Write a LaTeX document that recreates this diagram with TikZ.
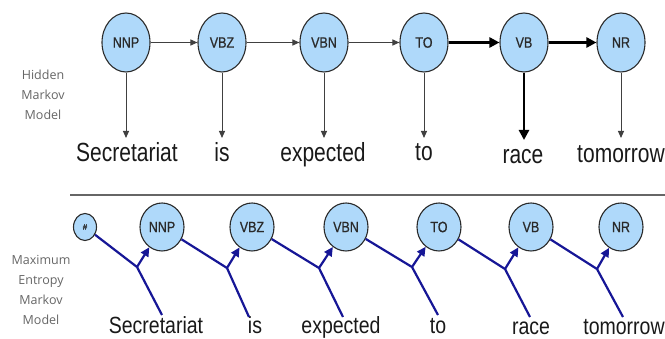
\documentclass[tikz,border=0pt]{standalone}
\usepackage{fontspec}
\setmainfont{Liberation Sans}
\newfontfamily\sidefont{Open Sans}
\newfontfamily\tagfont[FakeBold=0.8]{Liberation Sans}
\usetikzlibrary{arrows.meta,shapes.geometric}
\definecolor{tagfill}{HTML}{AFD9FA}
\definecolor{tagline}{HTML}{2A2A2A}
\definecolor{memmblue}{RGB}{22,22,150}
\definecolor{sidegray}{HTML}{666666}
\tikzset{
  tag/.style={ellipse, draw=tagline, fill=tagfill, line width=1.1pt, inner sep=0pt,
    minimum width=48pt, minimum height=59pt, text=tagline,
    font=\tagfont\fontsize{12.5}{14}\selectfont},
  tagsmall/.style={tag, minimum width=44pt, minimum height=48pt},
  tagtiny/.style={tag, minimum width=23pt, minimum height=27pt,
    font=\tagfont\fontsize{8}{9}\selectfont},
  word/.style={anchor=base, inner sep=0pt, text=black!90},
  side/.style={align=center, text=sidegray, font=\sidefont\fontsize{12.5}{20}\selectfont},
  thinarr/.style={draw=black!75, line width=1pt, -{Triangle[length=7pt,width=6pt]}},
  thickarr/.style={draw=black, line width=2.5pt, -{Triangle[length=10pt,width=10pt]}},
  memm/.style={draw=memmblue, line width=2.2pt},
  memmarr/.style={memm, -{Triangle[length=9pt,width=8.5pt]}}
}
\newcommand{\tall}[2][1.25]{\scalebox{1}[#1]{#2}}
\newcommand{\bigword}[1]{\fontsize{21}{24}\selectfont\tall{#1}}
\newcommand{\lowword}[1]{\fontsize{19.5}{22}\selectfont\tall[1.2]{#1}}
\begin{document}
\begin{tikzpicture}[x=1pt,y=-1pt]
\useasboundingbox (0,0) rectangle (665,339);

% ---------- Hidden Markov Model ----------
\node[side] (hmmlabel) at (43,95) {Hidden\\Markov\\Model};

\node[tag] (t1) at (126,42.5) {\tall[1.2]{NNP}};
\node[tag] (t2) at (222,42.5) {\tall[1.2]{VBZ}};
\node[tag] (t3) at (324,42.5) {\tall[1.2]{VBN}};
\node[tag] (t4) at (424,42.5) {\tall[1.2]{TO}};
\node[tag] (t5) at (524,42.5) {\tall[1.2]{VB}};
\node[tag] (t6) at (621,42.5) {\tall[1.2]{NR}};

\node[word] (w1) at (127,162) {\bigword{Secretariat}};
\node[word] (w2) at (222,162) {\bigword{is}};
\node[word] (w3) at (323,162) {\bigword{expected}};
\node[word] (w4) at (424,161) {\bigword{to}};
\node[word] (w5) at (523,164) {\bigword{race}};
\node[word] (w6) at (621,163) {\bigword{tomorrow}};

\coordinate (e1) at (126,138);
\coordinate (e2) at (222,138);
\coordinate (e3) at (324,138);
\coordinate (e4) at (424,138);
\coordinate (e5) at (524,140);
\coordinate (e6) at (621,138);

\draw[thinarr] (t1) -- (t2);
\draw[thinarr] (t2) -- (t3);
\draw[thinarr] (t3) -- (t4);
\draw[thickarr] (t4) -- (t5);
\draw[thickarr] (t5) -- (t6);

\draw[thinarr] (t1.south) -- (e1);
\draw[thinarr] (t2.south) -- (e2);
\draw[thinarr] (t3.south) -- (e3);
\draw[thinarr] (t4.south) -- (e4);
\draw[thickarr] (t5.south) -- (e5);
\draw[thinarr] (t6.south) -- (e6);

% separator between the two models
\coordinate (sepL) at (70,195);
\coordinate (sepR) at (665,195);
\draw[black!60, line width=1.5pt] (sepL) -- (sepR);

% ---------- Maximum Entropy Markov Model ----------
\node[side] (memmlabel) at (41,290) {Maximum\\Entropy\\Markov\\Model};

\node[tagtiny] (m0) at (85,227) {\#};
\node[tagsmall] (m1) at (162,227) {\tall[1.2]{NNP}};
\node[tagsmall] (m2) at (252,227) {\tall[1.2]{VBZ}};
\node[tagsmall] (m3) at (346,227) {\tall[1.2]{VBN}};
\node[tagsmall] (m4) at (439,227) {\tall[1.2]{TO}};
\node[tagsmall] (m5) at (531,227) {\tall[1.2]{VB}};
\node[tagsmall] (m6) at (621,227) {\tall[1.2]{NR}};

\node[word] (v1) at (156,334) {\lowword{Secretariat}};
\node[word] (v2) at (255,334) {\lowword{is}};
\node[word] (v3) at (341,334) {\lowword{expected}};
\node[word] (v4) at (438,334) {\lowword{to}};
\node[word] (v5) at (531,335) {\lowword{race}};
\node[word] (v6) at (624,335) {\lowword{tomorrow}};

% junctions where previous tag and current word meet
\coordinate (j1) at (137,267);
\coordinate (j2) at (227,268);
\coordinate (j3) at (319,268);
\coordinate (j4) at (412,267);
\coordinate (j5) at (505,269);
\coordinate (j6) at (597,269);

% lower ends of the word lines
\coordinate (b1) at (162,315);
\coordinate (b2) at (249,317);
\coordinate (b3) at (343,317);
\coordinate (b4) at (438,315);
\coordinate (b5) at (530,317);
\coordinate (b6) at (623,317);

\foreach \p/\c in {0/1,1/2,2/3,3/4,4/5,5/6}{
  \draw[memm] (m\p) -- (j\c);
  \draw[memm] (b\c) -- (j\c);
  \draw[memmarr] (j\c) -- (m\c);
}
\end{tikzpicture}
\end{document}
